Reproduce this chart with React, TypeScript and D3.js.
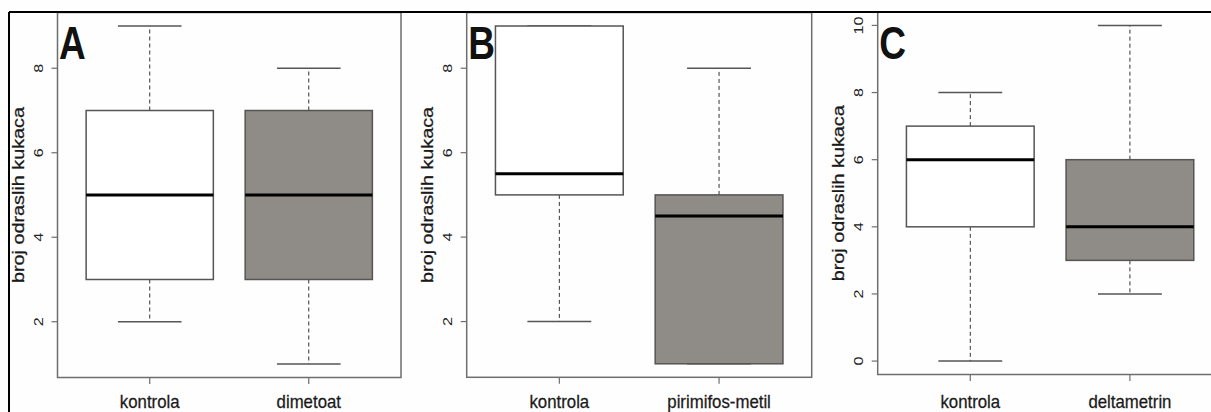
import React from "react";
import * as d3 from "d3";

// ---- data (min, q1, median, q3, max) ----
const letters = ["A", "B", "C"];
const catsA = ["kontrola", "dimetoat"];
const catsB = ["kontrola", "pirimifos-metil"];
const catsC = ["kontrola", "deltametrin"];
const boxA = [
  [2, 3, 5, 7, 9],
  [1, 3, 5, 7, 8],
];
const boxB = [
  [2, 5, 5.5, 9, 9],
  [1, 1, 4.5, 5, 8],
];
const boxC = [
  [0, 4, 6, 7, 8],
  [2, 3, 4, 6, 10],
];
const ticksA = [2, 4, 6, 8];
const ticksB = [2, 4, 6, 8];
const ticksC = [0, 2, 4, 6, 8, 10];
const yTitle = "broj odraslih kukaca";
const fills = ["#ffffff", "#8f8b86"];

const FONT = "'Liberation Sans', Arial, Helvetica, sans-serif";

type PanelProps = {
  letter: string;
  cats: string[];
  stats: number[][];
  ticks: number[];
  left: number;
  right: number;
  top: number;
  bottom: number;
};

function Panel({ letter, cats, stats, ticks, left, right, top, bottom }: PanelProps) {
  const all = stats.flat();
  const lo = d3.min(all)!;
  const hi = d3.max(all)!;
  const pad = (hi - lo) * 0.04;
  const y = d3.scaleLinear().domain([lo - pad, hi + pad]).range([bottom, top]);
  const n = cats.length;
  const xpad = n * 0.04;
  const x = d3.scaleLinear().domain([0.5 - xpad, n + 0.5 + xpad]).range([left, right]);
  const unit = x(2) - x(1);
  const boxW = unit * 0.8;
  const capW = boxW * 0.5;
  const frame = "#6e6e6e";
  const midY = (top + bottom) / 2;

  return (
    <g>
      {stats.map((s, i) => {
        const cx = x(i + 1);
        const [mn, q1, md, q3, mx] = s;
        return (
          <g key={i}>
            <line x1={cx} x2={cx} y1={y(q3)} y2={y(mx)} stroke="#333" strokeWidth={1} strokeDasharray="4,3" />
            <line x1={cx} x2={cx} y1={y(q1)} y2={y(mn)} stroke="#333" strokeWidth={1} strokeDasharray="4,3" />
            <line x1={cx - capW / 2} x2={cx + capW / 2} y1={y(mx)} y2={y(mx)} stroke="#555" strokeWidth={1.5} />
            <line x1={cx - capW / 2} x2={cx + capW / 2} y1={y(mn)} y2={y(mn)} stroke="#555" strokeWidth={1.5} />
            <rect
              x={cx - boxW / 2}
              y={y(q3)}
              width={boxW}
              height={y(q1) - y(q3)}
              fill={fills[i]}
              stroke="#555"
              strokeWidth={1.5}
            />
            <line x1={cx - boxW / 2} x2={cx + boxW / 2} y1={y(md)} y2={y(md)} stroke="#000" strokeWidth={3} />
          </g>
        );
      })}
      <rect x={left} y={top} width={right - left} height={bottom - top} fill="none" stroke={frame} strokeWidth={1.5} />
      {ticks.map((t) => (
        <g key={t}>
          <line x1={left - 6} x2={left} y1={y(t)} y2={y(t)} stroke={frame} strokeWidth={1.2} />
          <text
            transform={`translate(${left - 19},${y(t)}) rotate(-90) scale(1.2,1)`}
            textAnchor="middle"
            dominantBaseline="central"
            fontFamily={FONT}
            fontSize={13.5}
            fill="#222"
          >
            {t}
          </text>
        </g>
      ))}
      {cats.map((c, i) => (
        <g key={c}>
          <line x1={x(i + 1)} x2={x(i + 1)} y1={bottom} y2={bottom + 6.5} stroke={frame} strokeWidth={1.2} />
          <text
            transform={`translate(${x(i + 1)},408) scale(1,1.12)`}
            textAnchor="middle"
            fontFamily={FONT}
            fontSize={16.8}
            fill="#1a1a1a"
            stroke="#1a1a1a"
            strokeWidth={0.25}
          >
            {c}
          </text>
        </g>
      ))}
      <text
        transform={`translate(${left - 39},${midY}) rotate(-90)`}
        textAnchor="middle"
        dominantBaseline="central"
        fontFamily={FONT}
        fontSize={16}
        textLength={176}
        lengthAdjust="spacingAndGlyphs"
        fill="#1a1a1a"
        stroke="#1a1a1a"
        strokeWidth={0.25}
      >
        {yTitle}
      </text>
      <text
        transform={`translate(${left + 1.5},59.3) scale(1,1.25)`}
        fontFamily={FONT}
        fontWeight="bold"
        fontSize={37}
        fill="#111"
      >
        {letter}
      </text>
    </g>
  );
}

export default function App() {
  return (
    <svg
      width={1211}
      height={412}
      style={{ position: "absolute", left: 0, top: 0, background: "#fefefe" }}
    >
      <Panel letter={letters[0]} cats={catsA} stats={boxA} ticks={ticksA} left={57.5} right={401} top={12.5} bottom={377.5} />
      <Panel letter={letters[1]} cats={catsB} stats={boxB} ticks={ticksB} left={466.7} right={811.7} top={12.5} bottom={377.3} />
      <Panel letter={letters[2]} cats={catsC} stats={boxC} ticks={ticksC} left={877.7} right={1222.5} top={12} bottom={374.5} />
      <line x1={9} x2={1211} y1={12} y2={12} stroke="#000" strokeWidth={2} />
      <line x1={9} x2={9} y1={12} y2={412} stroke="#000" strokeWidth={2} />
    </svg>
  );
}
